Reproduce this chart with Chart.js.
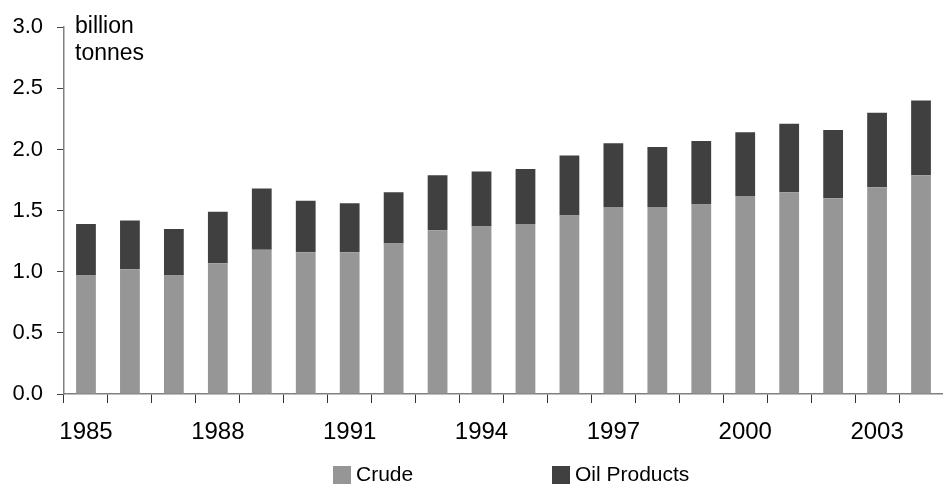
<!DOCTYPE html>
<html>
<head>
<meta charset="utf-8">
<script src="https://cdn.jsdelivr.net/npm/chart.js@4"></script>
<style>
  body { margin: 0; background: #fff; font-family: "Liberation Sans", Arial, sans-serif; }
  #wrap { position: relative; width: 943px; height: 484px; overflow: hidden; }
  #unit { position: absolute; left: 75px; top: 12px; font-size: 23px; line-height: 27px; color: #000; }
  .legbox { position: absolute; top: 466px; width: 18px; height: 18px; }
  .legtext { position: absolute; top: 462px; font-size: 21px; line-height: 24px; color: #000; white-space: nowrap; }
</style>
</head>
<body>
<div id="wrap">
  <canvas id="plotCanvas" width="943" height="484"></canvas>
  <div id="unit">billion<br>tonnes</div>
  <div id="legend"></div>
</div>
<script>
// years and values, billion tonnes
let years = [1985, 1986, 1987, 1988, 1989, 1990, 1991, 1992, 1993, 1994,
             1995, 1996, 1997, 1998, 1999, 2000, 2001, 2002, 2003, 2004];
let crude = [0.97, 1.02, 0.97, 1.07, 1.18, 1.16, 1.16, 1.23, 1.34, 1.37,
             1.39, 1.46, 1.53, 1.53, 1.55, 1.62, 1.65, 1.60, 1.69, 1.79];
let oilProducts = [0.42, 0.40, 0.38, 0.42, 0.50, 0.42, 0.40, 0.42, 0.45, 0.45,
                   0.45, 0.49, 0.52, 0.49, 0.52, 0.52, 0.56, 0.56, 0.61, 0.61];
let shownYears = [1985, 1988, 1991, 1994, 1997, 2000, 2003];

let chart;

function drawPlot(datasets) {
  const ctx = document.getElementById("plotCanvas").getContext("2d");
  chart = new Chart(ctx, {
    type: "bar",
    data: {
      labels: years,
      datasets: datasets,
    },
    options: {
      responsive: false,
      animation: false,
      devicePixelRatio: 1,
      layout: { padding: { top: 25, right: -7, left: 0, bottom: 0 } },
      plugins: { legend: { display: false }, tooltip: { enabled: false } },
      scales: {
        x: {
          stacked: true,
          grid: { drawOnChartArea: false, drawTicks: true, tickLength: 9, color: "#333", offset: true },
          border: { color: "#808080", width: 1.5 },
          ticks: {
            autoSkip: false,
            maxRotation: 0,
            padding: 15,
            color: "#000",
            font: { family: "Liberation Sans", size: 24 },
            callback: function (value, index) {
              let y = years[index];
              return shownYears.includes(y) ? String(y) : "";
            },
          },
          afterFit: function (scale) { scale.height = 90; },
        },
        y: {
          stacked: true,
          min: 0,
          max: 3,
          grid: { drawOnChartArea: false, drawTicks: true, tickLength: 7, color: "#444" },
          border: { color: "#808080", width: 1.5 },
          ticks: {
            stepSize: 0.5,
            padding: 14,
            color: "#000",
            font: { family: "Liberation Sans", size: 22 },
            callback: function (value) { return value.toFixed(1); },
          },
          afterFit: function (scale) { scale.width = 64; },
        },
      },
    },
  });
}

function getDataset() {
  return [
    { label: "Crude", data: crude, backgroundColor: "#969696", barPercentage: 0.45, categoryPercentage: 1.0 },
    { label: "Oil Products", data: oilProducts, backgroundColor: "#404040", barPercentage: 0.45, categoryPercentage: 1.0 },
  ];
}

drawPlot(getDataset());

// legend built from the datasets
let legendLeft = [333, 552];
let legendBox = document.getElementById("legend");
chart.data.datasets.forEach(function (ds, i) {
  let box = document.createElement("div");
  box.className = "legbox";
  box.style.left = legendLeft[i] + "px";
  box.style.background = ds.backgroundColor;
  legendBox.appendChild(box);
  let txt = document.createElement("div");
  txt.className = "legtext";
  txt.style.left = (legendLeft[i] + 23) + "px";
  txt.textContent = ds.label;
  legendBox.appendChild(txt);
});
</script>
</body>
</html>
